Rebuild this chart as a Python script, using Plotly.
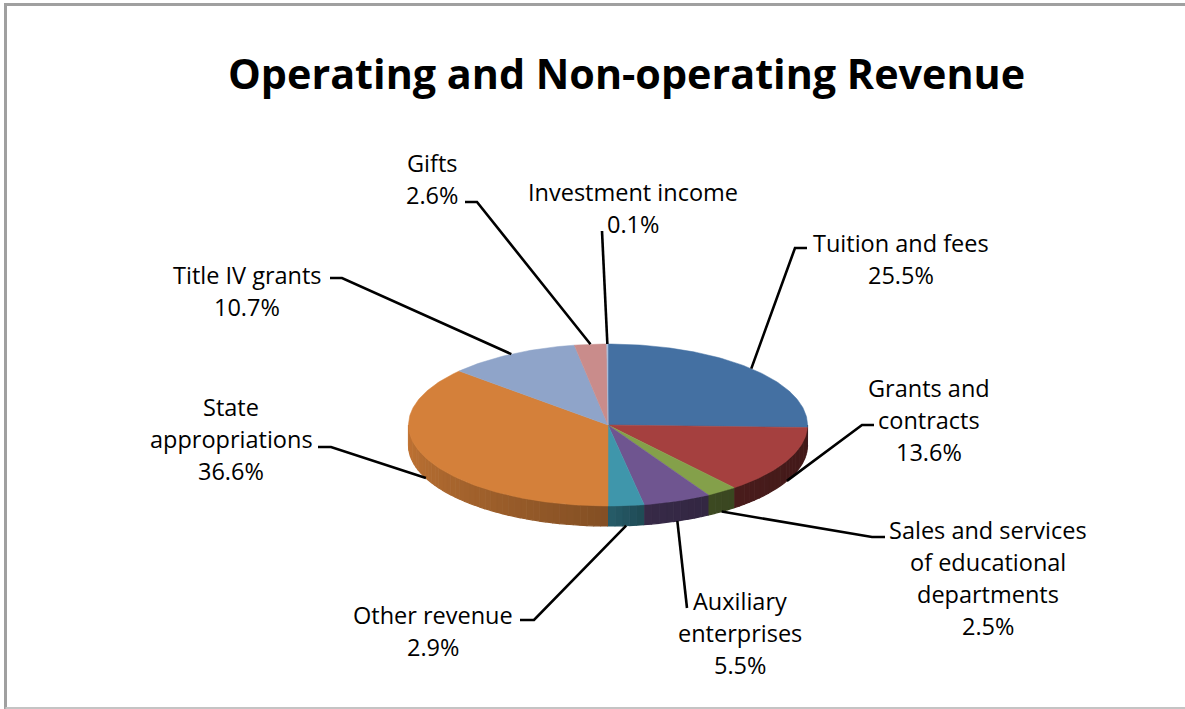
import numpy as np
import plotly.graph_objects as go

# ---- data ----
categories = ["Tuition and fees", "Grants and\ncontracts", "Sales and services\nof educational\ndepartments",
              "Auxiliary\nenterprises", "Other revenue", "State\nappropriations",
              "Title IV grants", "Gifts", "Investment income"]
values = [25.5, 13.6, 2.5, 5.5, 2.9, 36.6, 10.7, 2.6, 0.1]
colors = ["#4470a2", "#a5403f", "#84a04a", "#6f5590", "#3f96ab", "#d4803a", "#8fa4c9", "#c98c8b", "#a9bcd9"]
title = "Operating and Non-operating Revenue"

# ---- layout geometry (pixels of the 1185x709 canvas) ----
CX, CY, RX, RY, DEPTH = 608, 425, 199.5, 81, 20
LABEL_X = [901, 929, 988, 740, 433, 231, 247, 432, 633]
LABEL_Y = [243, 388, 530, 601, 615, 407, 275, 163, 192]
LINE_STEP = 32
ELBOWS = [[(795, 248), (807, 248)], [(862, 425), (874, 425)], [(872, 537), (885, 537)],
          [(687, 608)], [(534, 620), (520, 620)], [(331, 447), (318, 447)],
          [(342, 278), (330, 278)], [(477, 202), (465, 202)], [(602, 231)]]
FONT = "Open Sans, sans-serif"


def ex(t):
    return CX + RX * np.sin(np.radians(t))


def ey(t):
    return CY - RY * np.cos(np.radians(t))


def shade(hex_color, f):
    r, g, b = (int(hex_color[i:i + 2], 16) for i in (1, 3, 5))
    return f"rgb({int(r * f)},{int(g * f)},{int(b * f)})"


fig = go.Figure()
total = sum(values)
edges = np.concatenate([[0], np.cumsum(values)]) / total * 360

# side wall
for i, c in enumerate(colors):
    a, b = max(edges[i], 90), min(edges[i + 1], 270)
    if b <= a:
        continue
    n = max(int((b - a) / 2), 1)
    grid = np.linspace(a, b, n + 1)
    for t0, t1 in zip(grid[:-1], grid[1:]):
        tm = (t0 + t1) / 2
        f = np.interp(tm, [90, 140, 170, 180, 270], [0.40, 0.44, 0.5, 0.62, 0.92])
        ts = np.linspace(t0, t1, 4)
        col = shade(c, f)
        fig.add_trace(go.Scatter(
            x=np.r_[ex(ts), ex(ts[::-1])], y=np.r_[ey(ts), ey(ts[::-1]) + DEPTH],
            mode="lines", fill="toself", fillcolor=col, line=dict(color=col, width=1.2),
            hoverinfo="skip", showlegend=False))

# top face
for i, (name, c, v) in enumerate(zip(categories, colors, values)):
    ts = np.linspace(edges[i], edges[i + 1], max(int(v * 4), 3))
    fig.add_trace(go.Scatter(
        x=np.r_[CX, ex(ts), CX], y=np.r_[CY, ey(ts), CY],
        mode="lines", fill="toself", fillcolor=c, line=dict(color=c, width=0.5),
        name=name.replace("\n", " "), text=f"{v}%", hoveron="fills", showlegend=False))

# leader lines, from each slice's mid-angle
for i, elbow in enumerate(ELBOWS):
    tm = (edges[i] + edges[i + 1]) / 2
    sx, sy = ex(tm), ey(tm) + (DEPTH if 90 < tm < 270 else 0)
    fig.add_trace(go.Scatter(
        x=[sx] + [p[0] for p in elbow], y=[sy] + [p[1] for p in elbow],
        mode="lines", line=dict(color="black", width=2.6), hoverinfo="skip", showlegend=False))

# labels
annotations = []
for name, v, lx, ly in zip(categories, values, LABEL_X, LABEL_Y):
    for k, line in enumerate(name.split("\n") + [f"{v:.1f}%"]):
        annotations.append(dict(x=lx, y=ly + k * LINE_STEP, xref="x", yref="y", text=line, showarrow=False,
                                xanchor="center", yanchor="middle", font=dict(family=FONT, size=23.5, color="black")))
annotations.append(dict(x=626, y=73, xref="x", yref="y", text=f"<b>{title}</b>", showarrow=False,
                        xanchor="center", yanchor="middle", font=dict(family=FONT, size=41.3, color="black")))

border = [(5.5, 4.5, 1185, 4.5, "#a0a0a0", 3), (5.5, 3, 5.5, 709, "#a0a0a0", 3), (5.5, 708, 1185, 708, "#c4c4c4", 2)]
fig.update_layout(
    width=1185, height=709, margin=dict(l=0, r=0, t=0, b=0), paper_bgcolor="white", plot_bgcolor="white",
    showlegend=False, annotations=annotations,
    xaxis=dict(range=[0, 1185], visible=False, fixedrange=True),
    yaxis=dict(range=[709, 0], visible=False, fixedrange=True),
    shapes=[dict(type="line", xref="x", yref="y", x0=a, y0=b, x1=c, y1=d,
                 line=dict(color=col, width=w), layer="below") for a, b, c, d, col, w in border],
)
fig.write_html("out.html", config={"displayModeBar": False},
               post_script="document.body.style.margin='0';document.body.style.overflow='hidden';")
